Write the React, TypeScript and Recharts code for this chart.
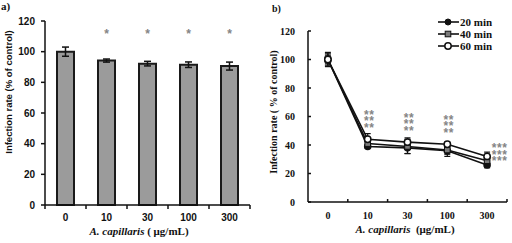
import React from 'react';
import { ComposedChart, LineChart, Bar, Line, XAxis, YAxis, ErrorBar, Legend } from 'recharts';

// ---------- data ----------
const concentrations = ['0', '10', '30', '100', '300'];

// panel a
const infectionA = [100, 94.2, 92.2, 91.5, 90.6];
const errorA = [3, 1, 1.5, 1.8, 2.6];
const sigA = ['', '*', '*', '*', '*'];

// panel b
const seriesNames = ['20 min', '40 min', '60 min'];
const min20 = [100, 39, 38, 36, 26];
const min40 = [100, 41, 39, 36.5, 29];
const min60 = [100, 44, 42, 40.5, 32];
const err20 = [3, 1, 4, 4, 2];
const err40 = [4, 2, 5, 3, 2];
const err60 = [5, 4, 3, 1.5, 3];
const sigB = ['', '**', '**', '**', '***'];

const yTicks = [0, 20, 40, 60, 80, 100, 120];

const dataA = concentrations.map((c, i) => ({ conc: c, value: infectionA[i], err: errorA[i], sig: sigA[i] }));
const dataB = concentrations.map((c, i) => ({
  conc: c,
  t20: min20[i], e20: err20[i],
  t40: min40[i], e40: err40[i],
  t60: min60[i], e60: err60[i],
  sig: sigB[i],
}));

// ---------- styles ----------
const SANS = "'Liberation Sans', Arial, sans-serif";
const SERIF = "'Liberation Serif', 'Times New Roman', serif";
const INK = '#111';
const STAR = '#858585';
const STAR_LEVEL_A = 113;

const A_LEFT = 45, A_RIGHT = 6;
const BAND_A = (256 - A_LEFT - A_RIGHT) / concentrations.length;
const B_LEFT = 52, B_RIGHT = 5;
const BAND_B = (256 - B_LEFT - B_RIGHT) / concentrations.length;

function XTickA(props: any) {
  const { x, y, payload, index } = props;
  const axisY = y - 4 - 5;
  const last = index === concentrations.length - 1;
  return (
    <g>
      <line x1={x - BAND_A / 2} x2={x - BAND_A / 2} y1={axisY} y2={axisY + 4} stroke={INK} strokeWidth={1.5} />
      {last && <line x1={x + BAND_A / 2} x2={x + BAND_A / 2} y1={axisY} y2={axisY + 4} stroke={INK} strokeWidth={1.5} />}
      <text x={x} y={y} dy="0.71em" textAnchor="middle" fontFamily={SANS} fontWeight={700} fontSize={10} fill={INK}>
        {payload.value}
      </text>
    </g>
  );
}

function XTickB(props: any) {
  const { x, y, payload } = props;
  const axisY = y - 10;
  return (
    <g>
      <line x1={x + BAND_B / 2} x2={x + BAND_B / 2} y1={axisY} y2={axisY - 3} stroke={INK} strokeWidth={1.5} />
      <text x={x} y={y} dy="0.71em" textAnchor="middle" fontFamily={SERIF} fontWeight={700} fontSize={10} fill={INK}>
        {payload.value}
      </text>
    </g>
  );
}

function renderStarA(props: any) {
  const { cx, cy, index, payload } = props;
  if (!payload.sig || cy == null) return <g key={`sa-${index}`} />;
  return (
    <text key={`sa-${index}`} x={cx} y={cy + 6.5} textAnchor="middle" fontFamily={SANS} fontSize={12} fontWeight={700} fill={STAR}>
      {payload.sig}
    </text>
  );
}

function renderStarsB(props: any) {
  const { cx, cy, index, payload } = props;
  if (!payload.sig || cy == null) return <g key={`sb-${index}`} />;
  const last = index === concentrations.length - 1;
  const x0 = last ? cx + 12.5 : cx + 1.5;
  const top = last ? cy - 11 : cy - 27;
  return (
    <foreignObject key={`sb-${index}`} x={x0 - 11} y={top - 5} width={22} height={24} style={{ overflow: 'visible' }}>
      <div
        style={{
          fontFamily: SANS,
          fontSize: 12,
          fontWeight: 700,
          color: STAR,
          lineHeight: '6.6px',
          paddingTop: 4.6,
          textAlign: 'center',
          letterSpacing: 0.6,
          whiteSpace: 'nowrap',
        }}
      >
        {payload.sig}
        <br />
        {payload.sig}
        <br />
        {payload.sig}
      </div>
    </foreignObject>
  );
}

function SquareDot(props: any) {
  const { cx, cy, index } = props;
  if (cy == null) return <g key={`sq-${index}`} />;
  return <rect key={`sq-${index}`} x={cx - 2.8} y={cy - 2.8} width={5.6} height={5.6} fill="#7a7a7a" stroke={INK} strokeWidth={1} />;
}

function marker(i: number) {
  if (i === 0) return <circle cx={10} cy={6} r={3} fill={INK} stroke={INK} />;
  if (i === 1) return <rect x={7.2} y={3.2} width={5.6} height={5.6} fill="#7a7a7a" stroke={INK} strokeWidth={1} />;
  return <circle cx={10} cy={6} r={3.2} fill="#fff" stroke={INK} strokeWidth={1.5} />;
}

function LegendB() {
  return (
    <div style={{ fontFamily: SERIF, fontSize: 11, fontWeight: 700, color: INK, lineHeight: '12px' }}>
      {seriesNames.map((n, i) => (
        <div key={n} style={{ display: 'flex', alignItems: 'center', height: 12, whiteSpace: 'nowrap' }}>
          <svg width={22} height={12} style={{ display: 'block' }}>
            <line x1={0} x2={21} y1={6} y2={6} stroke={INK} strokeWidth={1.6} />
            {marker(i)}
          </svg>
          <span>{n}</span>
        </div>
      ))}
    </div>
  );
}

const overlay: React.CSSProperties = { position: 'absolute', whiteSpace: 'nowrap', color: INK };

export default function App() {
  return (
    <div style={{ position: 'absolute', left: 0, top: 0, width: 512, height: 243, background: '#fff', overflow: 'hidden' }}>
      {/* Panel a */}
      <div style={{ position: 'absolute', left: 0, top: 0 }}>
        <ComposedChart width={256} height={243} data={dataA} margin={{ top: 21, right: A_RIGHT, bottom: 0, left: 0 }}>
          <XAxis
            dataKey="conc"
            height={38}
            interval={0}
            axisLine={{ stroke: INK, strokeWidth: 1.5 }}
            tickLine={false}
            tickSize={4}
            tickMargin={5}
            tick={(p: any) => <XTickA {...p} />}
          />
          <YAxis
            domain={[0, 120]}
            ticks={yTicks}
            width={A_LEFT}
            interval={0}
            axisLine={{ stroke: INK, strokeWidth: 1.5 }}
            tickLine={{ stroke: INK, strokeWidth: 1.5 }}
            tickSize={4}
            tickMargin={6}
            tick={{ fontFamily: SANS, fontWeight: 700, fontSize: 10, fill: INK }}
          />
          <Bar dataKey="value" barSize={17} fill="#9b9b9b" stroke="#1a1a1a" strokeWidth={2} isAnimationActive={false}>
            <ErrorBar dataKey="err" width={3.5} stroke={INK} strokeWidth={1.5} />
          </Bar>
          <Line
            dataKey={(d: any) => (d.sig ? STAR_LEVEL_A : null)}
            stroke="none"
            dot={renderStarA}
            activeDot={false}
            legendType="none"
            isAnimationActive={false}
          />
        </ComposedChart>
      </div>

      {/* Panel b */}
      <div style={{ position: 'absolute', left: 256, top: 0 }}>
        <LineChart width={256} height={243} data={dataB} margin={{ top: 31, right: B_RIGHT, bottom: 0, left: 0 }}>
          <XAxis
            dataKey="conc"
            scale="band"
            height={41}
            interval={0}
            axisLine={{ stroke: INK, strokeWidth: 1.5 }}
            tickLine={false}
            tickSize={0}
            tickMargin={10}
            tick={(p: any) => <XTickB {...p} />}
          />
          <YAxis
            domain={[0, 120]}
            ticks={yTicks}
            width={B_LEFT}
            interval={0}
            axisLine={{ stroke: INK, strokeWidth: 1.5 }}
            tickLine={{ stroke: INK, strokeWidth: 1.5 }}
            tickSize={-3}
            tickMargin={16}
            tick={{ fontFamily: SERIF, fontWeight: 700, fontSize: 10, fill: INK }}
          />
          <Line dataKey="t20" name={seriesNames[0]} stroke={INK} strokeWidth={1.6} dot={{ r: 3, fill: INK, stroke: INK }} activeDot={false} isAnimationActive={false}>
            <ErrorBar dataKey="e20" width={3} stroke={INK} strokeWidth={1.2} />
          </Line>
          <Line dataKey="t40" name={seriesNames[1]} stroke={INK} strokeWidth={1.6} dot={SquareDot} activeDot={false} isAnimationActive={false}>
            <ErrorBar dataKey="e40" width={3} stroke={INK} strokeWidth={1.2} />
          </Line>
          <Line dataKey="t60" name={seriesNames[2]} stroke={INK} strokeWidth={1.6} dot={{ r: 3.2, fill: '#fff', stroke: INK, strokeWidth: 1.5 }} activeDot={false} isAnimationActive={false}>
            <ErrorBar dataKey="e60" width={3} stroke={INK} strokeWidth={1.2} />
          </Line>
          <Line dataKey="t60" stroke="none" dot={renderStarsB} activeDot={false} legendType="none" isAnimationActive={false} />
          <Legend content={() => <LegendB />} layout="vertical" align="center" verticalAlign="middle" wrapperStyle={{ left: 182, top: 16, width: 80 }} />
        </LineChart>
      </div>

      {/* titles and axis labels */}
      <div style={{ ...overlay, left: 1, top: 0, fontFamily: SERIF, fontWeight: 700, fontSize: 11, lineHeight: '12px' }}>a)</div>
      <div style={{ ...overlay, left: 272, top: 3, fontFamily: SERIF, fontWeight: 700, fontSize: 10, lineHeight: '12px' }}>b)</div>

      <div style={{ ...overlay, left: 8, top: 92, fontFamily: SANS, fontWeight: 700, fontSize: 9.5, lineHeight: '11px', transform: 'translate(-50%, -50%) rotate(-90deg)' }}>
        Infection rate (% of control)
      </div>
      <div style={{ ...overlay, left: 139, top: 231, fontFamily: SERIF, fontWeight: 700, fontSize: 11, lineHeight: '12px', transform: 'translate(-50%, -50%)' }}>
        <i>A. capillaris</i> ( μg/mL)
      </div>

      <div style={{ ...overlay, left: 273, top: 112, fontFamily: SERIF, fontWeight: 700, fontSize: 10, lineHeight: '11px', transform: 'translate(-50%, -50%) rotate(-90deg)' }}>
        Infection rate ( % of control)
      </div>
      <div style={{ ...overlay, left: 405, top: 229, fontFamily: SERIF, fontWeight: 700, fontSize: 11, lineHeight: '12px', transform: 'translate(-50%, -50%)' }}>
        <i>A. capillaris</i>&nbsp; (μg/mL)
      </div>
    </div>
  );
}
